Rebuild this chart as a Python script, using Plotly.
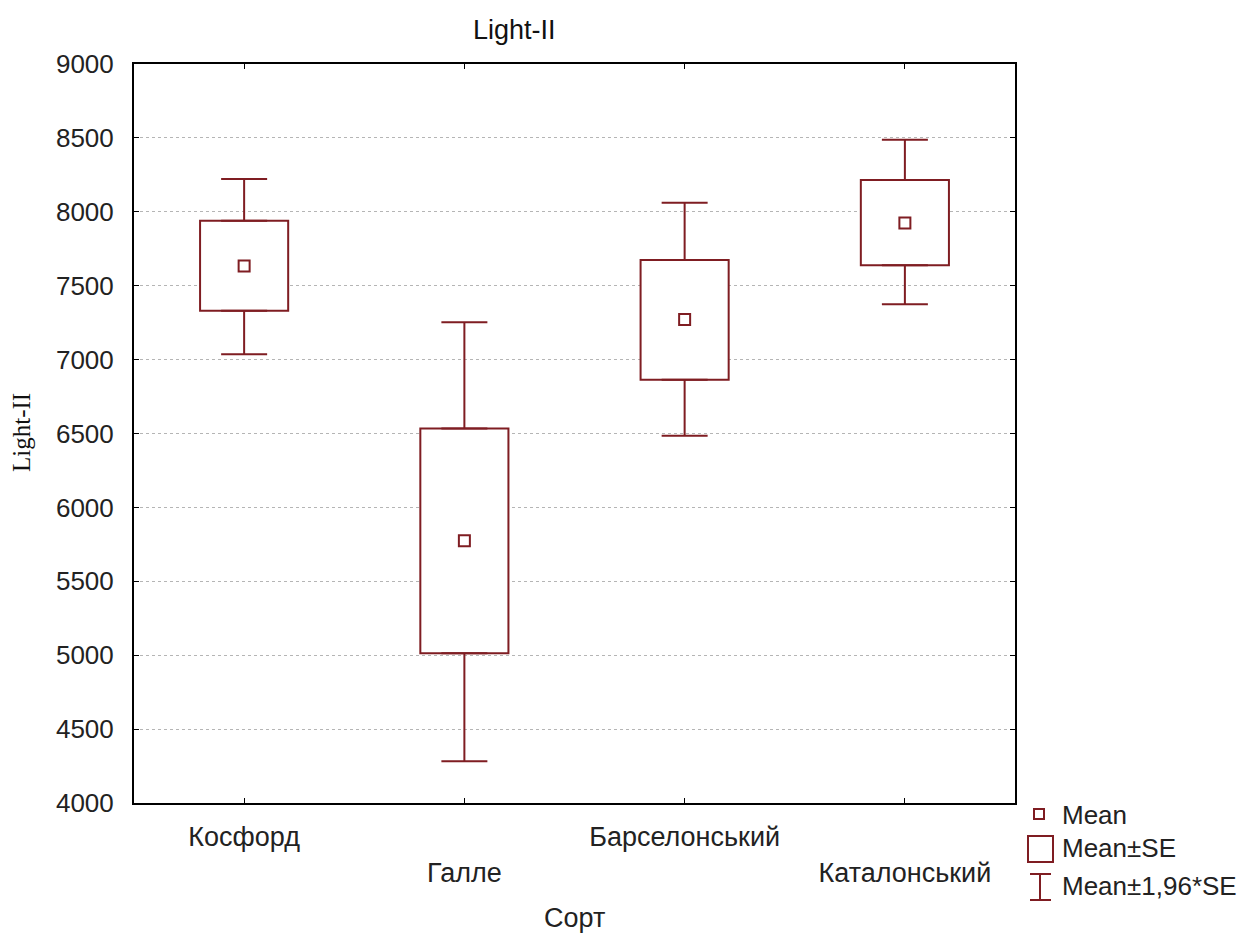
import plotly.graph_objects as go

# ---- data ----
categories = ["Косфорд", "Галле", "Барселонський", "Каталонський"]
mean_vals = [7633, 5774, 7272, 7925]
se_low = [7331, 5014, 6863, 7638]
se_high = [7939, 6534, 7674, 8215]
ci_low = [7036, 4282, 6485, 7375]
ci_high = [8222, 7252, 8062, 8488]
y_ticks = [4000, 4500, 5000, 5500, 6000, 6500, 7000, 7500, 8000, 8500, 9000]
title_text = "Light-II"
x_title = "Сорт"
y_title = "Light-II"
legend_labels = ["Mean", "Mean±SE", "Mean±1,96*SE"]

COLOR = "#7f1d22"
SANS = "Liberation Sans, Arial, sans-serif"
SERIF = "Liberation Serif, Times New Roman, serif"

W, H = 1251, 934
L, R, T, B = 134, 1015, 64, 803  # plot area in px


def px(xp):
    return (xp - L) / (R - L)


def py(yp):
    return (B - yp) / (B - T)


box_heights = [h - l for h, l in zip(se_high, se_low)]
up_whisker = [c - h for c, h in zip(ci_high, se_high)]
down_whisker = [l - c for c, l in zip(ci_low, se_low)]
zeros = [0] * len(categories)

fig = go.Figure()

# Mean ± SE boxes
fig.add_trace(go.Bar(
    x=categories,
    y=box_heights,
    base=se_low,
    width=0.4,
    marker=dict(color="white", line=dict(color=COLOR, width=2)),
    hoverinfo="skip",
    showlegend=False,
))

# Upper whiskers (Mean ± 1.96*SE)
fig.add_trace(go.Scatter(
    x=categories,
    y=se_high,
    mode="markers",
    marker=dict(size=1, opacity=0),
    error_y=dict(type="data", symmetric=False, array=up_whisker, arrayminus=zeros,
                 color=COLOR, thickness=2, width=23),
    hoverinfo="skip",
    showlegend=False,
))
# Lower whiskers
fig.add_trace(go.Scatter(
    x=categories,
    y=se_low,
    mode="markers",
    marker=dict(size=1, opacity=0),
    error_y=dict(type="data", symmetric=False, array=zeros, arrayminus=down_whisker,
                 color=COLOR, thickness=2, width=23),
    hoverinfo="skip",
    showlegend=False,
))

# Means
fig.add_trace(go.Scatter(
    x=categories,
    y=mean_vals,
    mode="markers",
    marker=dict(symbol="square-open", size=11, color=COLOR, line=dict(color=COLOR, width=2)),
    showlegend=False,
))

ticktext = [c if i % 2 == 0 else "<br>" + c for i, c in enumerate(categories)]

fig.update_xaxes(
    type="category",
    range=[-0.5, len(categories) - 0.5],
    tickmode="array",
    tickvals=categories,
    ticktext=ticktext,
    ticks="inside",
    ticklen=5,
    tickcolor="black",
    showline=True,
    linecolor="black",
    linewidth=2,
    mirror="allticks",
    showgrid=False,
    zeroline=False,
    tickfont=dict(family=SANS, size=27, color="#222"),
    ticklabelstandoff=9,
)
fig.update_yaxes(
    range=[4000, 9000],
    tickmode="array",
    tickvals=y_ticks,
    ticktext=[str(v) for v in y_ticks],
    ticks="inside",
    ticklen=5,
    tickcolor="black",
    showline=True,
    linecolor="black",
    linewidth=2,
    mirror="allticks",
    showgrid=True,
    gridcolor="#b5b5b5",
    griddash="dot",
    gridwidth=1,
    zeroline=False,
    tickfont=dict(family=SANS, size=26, color="#222"),
    ticklabelstandoff=13,
)

annotations = [
    dict(text=title_text, x=px(514), y=py(30), xref="paper", yref="paper",
         showarrow=False, font=dict(family=SANS, size=27, color="#111"),
         xanchor="center", yanchor="middle"),
    dict(text=x_title, x=px(574), y=py(918), xref="paper", yref="paper",
         showarrow=False, font=dict(family=SANS, size=27, color="#222"),
         xanchor="center", yanchor="middle"),
    dict(text=y_title, x=px(22), y=py(433), xref="paper", yref="paper",
         showarrow=False, textangle=-90, font=dict(family=SERIF, size=25, color="#111"),
         xanchor="center", yanchor="middle"),
]
for lab, yc in zip(legend_labels, [815, 848, 886]):
    annotations.append(dict(text=lab, x=px(1060), y=py(yc), xref="paper", yref="paper",
                            showarrow=False, font=dict(family=SANS, size=26, color="#222"),
                            xanchor="left", yanchor="middle"))

line = dict(color=COLOR, width=2)
shapes = [
    dict(type="rect", xref="paper", yref="paper", x0=px(1034), x1=px(1044), y0=py(809), y1=py(819), line=line),
    dict(type="rect", xref="paper", yref="paper", x0=px(1028), x1=px(1053), y0=py(836), y1=py(862), line=line),
    dict(type="line", xref="paper", yref="paper", x0=px(1040), x1=px(1040), y0=py(874), y1=py(900), line=line),
    dict(type="line", xref="paper", yref="paper", x0=px(1030), x1=px(1051), y0=py(874), y1=py(874), line=line),
    dict(type="line", xref="paper", yref="paper", x0=px(1030), x1=px(1051), y0=py(900), y1=py(900), line=line),
]

fig.update_layout(
    width=W,
    height=H,
    margin=dict(l=L, r=W - R, t=T, b=H - B, pad=0),
    paper_bgcolor="white",
    plot_bgcolor="white",
    showlegend=False,
    annotations=annotations,
    shapes=shapes,
)

fig.write_html("out.html")
